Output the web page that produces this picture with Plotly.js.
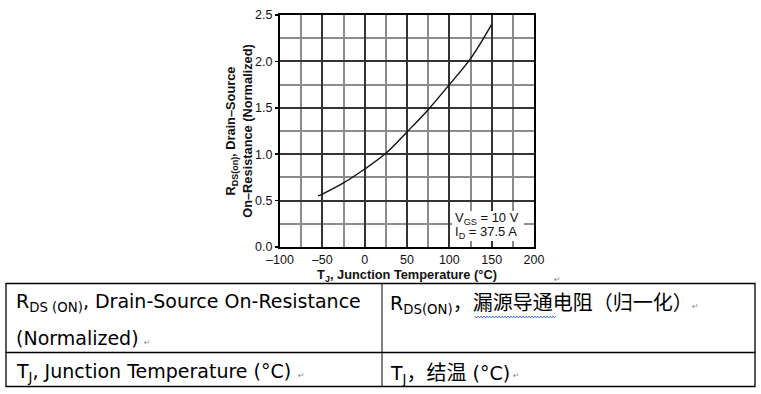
<!DOCTYPE html>
<html>
<head>
<meta charset="utf-8">
<script src="https://cdn.plot.ly/plotly-3.0.1.min.js"></script>
<style>html,body{margin:0;padding:0;background:#fff;}#chart{width:761px;height:394px;}</style>
</head>
<body>
<div id="chart"></div>
<script>
// Data
const tempC = [-55, -50, -25, 0, 25, 50, 75, 100, 125, 150];
const rdsNorm = [0.55, 0.57, 0.69, 0.84, 1.01, 1.24, 1.48, 1.75, 2.03, 2.40];
const xTickVals = [-100, -50, 0, 50, 100, 150, 200];
const xTickText = ['\u2013100', '\u201350', '0', '50', '100', '150', '200'];
const yTickVals = [0, 0.5, 1.0, 1.5, 2.0, 2.5];
const yTickText = ['0.0', '0.5', '1.0', '1.5', '2.0', '2.5'];
const xTitle = 'T<sub>J</sub>, Junction Temperature (\u00b0C)';
const yTitle = 'R<sub>DS(on)</sub>, Drain\u2013Source<br>On\u2013Resistance (Normalized)';
const condLine1 = 'V<sub>GS</sub> = 10 V';
const condLine2 = 'I<sub>D</sub> = 37.5 A';
const cjk = s => '<span style="font-family:\'Noto Sans CJK SC\';font-size:20px">' + s + '</span>';
const tableCells = [
  ['R<sub>DS (ON)</sub>, Drain-Source On-Resistance', '(Normalized)'],
  ['R<sub>DS(ON)</sub>' + cjk('\uff0c\u6f0f\u6e90\u5bfc\u901a\u7535\u963b\uff08\u5f52\u4e00\u5316\uff09')],
  ['T<sub>J</sub>, Junction Temperature (\u00b0C)'],
  ['T<sub>J</sub>' + cjk('\uff0c\u7ed3\u6e29') + ' (\u00b0C)']
];

// figure geometry (pixels)
const W = 761, H = 394;
const PL = 280, PR = 534, PT = 15, PB = 247;
const px = x => (x - PL) / (PR - PL);
const py = y => (PB - y) / (PB - PT);

const tableFont = {family: 'DejaVu Sans, Noto Sans CJK SC, sans-serif', size: 19, color: '#000'};
const markFont = {family: 'DejaVu Sans', size: 8, color: '#888'};

const shapes = [];
function hline(x0, x1, y, w) {
  shapes.push({type: 'line', xref: 'paper', yref: 'paper', x0: px(x0), x1: px(x1), y0: py(y), y1: py(y), line: {color: '#000', width: w}});
}
function vline(x, y0, y1, w) {
  shapes.push({type: 'line', xref: 'paper', yref: 'paper', x0: px(x), x1: px(x), y0: py(y0), y1: py(y1), line: {color: '#000', width: w}});
}
hline(5.5, 755.5, 283.5, 1.3);
hline(5.5, 755.5, 352.5, 1.3);
hline(5.5, 755.5, 386.5, 1.3);
vline(6, 283.5, 386.5, 1.3);
vline(755, 283.5, 386.5, 1.3);
vline(382, 283.5, 386.5, 1);

// white box behind the test-condition note
shapes.push({type: 'rect', xref: 'paper', yref: 'paper', layer: 'above',
  x0: px(452), x1: px(524), y0: py(241), y1: py(211), fillcolor: '#fff', line: {width: 0}});

// wavy spell-check underline under 漏源导通
(function () {
  let d = '';
  const x0 = 475, x1 = 557, yb = 317;
  let k = 0;
  for (let x = x0; x <= x1; x += 1.5) {
    const y = yb + (k % 2 === 0 ? -0.9 : 0.9);
    d += (k === 0 ? 'M' : 'L') + px(x).toFixed(5) + ',' + py(y).toFixed(5);
    k++;
  }
  shapes.push({type: 'path', xref: 'paper', yref: 'paper', path: d, line: {color: '#3e62d0', width: 1}});
})();

const annotations = [];
function note(x, y, text, font, xanchor) {
  annotations.push({xref: 'paper', yref: 'paper', x: px(x), y: py(y), text: text, showarrow: false,
    xanchor: xanchor || 'left', yanchor: 'middle', align: 'left', font: font, borderpad: 0});
}
note(15, 302, tableCells[0][0], tableFont);
note(15, 338, tableCells[0][1], tableFont);
note(389, 302, tableCells[1][0], tableFont);
note(15, 372, tableCells[2][0], tableFont);
note(389, 372, tableCells[3][0], tableFont);
// paragraph marks
note(143, 342, '\u21b5', markFont);
note(691, 306, '\u21b5', markFont);
note(297, 375, '\u21b5', markFont);
note(512, 375, '\u21b5', markFont);
note(553, 279, '\u21b5', markFont);

// conditions note
const condFont = {family: 'Liberation Sans, Arial, sans-serif', size: 13, color: '#111'};
note(454, 218.5, condLine1, condFont);
note(454, 232.5, condLine2, condFont);

const trace = {
  x: tempC, y: rdsNorm, type: 'scatter', mode: 'lines',
  line: {color: '#111', width: 1.4, shape: 'spline', smoothing: 1},
  hoverinfo: 'skip'
};

const tickFont = {family: 'Liberation Sans, Arial, sans-serif', size: 12.5, color: '#111'};
const titleFont = {family: 'Liberation Sans, Arial, sans-serif', size: 12.8, color: '#111', weight: 'bold'};

const layout = {
  width: W, height: H,
  margin: {l: PL, r: W - PR, t: PT, b: H - PB, pad: 0},
  paper_bgcolor: '#fff', plot_bgcolor: '#fff',
  showlegend: false,
  xaxis: {
    range: [-100, 200], tickvals: xTickVals, ticktext: xTickText,
    showgrid: true, gridcolor: '#333', gridwidth: 2,
    minor: {dtick: 25, tick0: -100, showgrid: true, gridcolor: '#8c8c8c', gridwidth: 2},
    zeroline: false, showline: true, linecolor: '#000', linewidth: 2, mirror: true,
    ticks: '', tickfont: tickFont,
    title: {text: '<b>' + xTitle + '</b>', font: titleFont, standoff: 1}
  },
  yaxis: {
    range: [0, 2.5], tickvals: yTickVals, ticktext: yTickText,
    showgrid: true, gridcolor: '#333', gridwidth: 2,
    minor: {dtick: 0.25, tick0: 0, showgrid: true, gridcolor: '#8c8c8c', gridwidth: 2},
    zeroline: false, showline: true, linecolor: '#000', linewidth: 2, mirror: true,
    ticks: 'outside', ticklen: 3, tickwidth: 1.5, tickcolor: '#000', tickfont: tickFont,
    title: {text: '<b>' + yTitle + '</b>', font: titleFont, standoff: 0}
  },
  shapes: shapes,
  annotations: annotations
};

Plotly.newPlot('chart', [trace], layout, {staticPlot: true, displayModeBar: false});
</script>
</body>
</html>
